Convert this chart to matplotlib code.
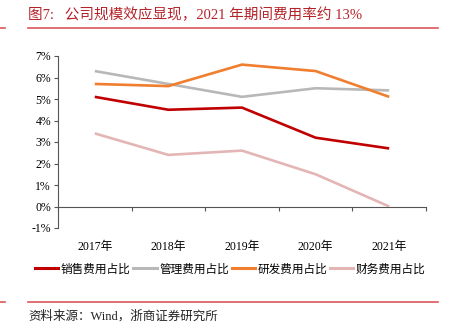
import matplotlib
matplotlib.use("Agg")
import matplotlib.pyplot as plt
from matplotlib.lines import Line2D
import numpy as np

plt.rcParams['font.family'] = ['Liberation Serif', 'Noto Sans CJK SC', 'DejaVu Sans']

years = ["2017年", "2018年", "2019年", "2020年", "2021年"]
sales = [5.1, 4.5, 4.6, 3.2, 2.7]
admin = [6.3, 5.7, 5.1, 5.5, 5.4]
rnd = [5.7, 5.6, 6.6, 6.3, 5.1]
fin = [3.4, 2.4, 2.6, 1.5, 0.0]
names = ["销售费用占比", "管理费用占比", "研发费用占比", "财务费用占比"]
cols = ["#C00000", "#B8B8B8", "#F07E2E", "#E3B6B5"]

fig = plt.figure(figsize=(4.56, 3.35), dpi=100)
ax = fig.add_axes([58 / 456, 1 - 228 / 335, 368 / 456, 172 / 335])

x = np.arange(len(years)) + 0.5
for vals, c in zip([sales, admin, rnd, fin], cols):
    ax.plot(x, vals, color=c, lw=1.9, solid_capstyle="butt")

ax.set_xlim(0, len(years))
ax.set_ylim(-1, 7)
ax.set_yticks(range(-1, 8))
ax.set_yticklabels([f"{v}%" for v in range(-1, 8)], fontsize=8.5)
ax.spines['top'].set_visible(False)
ax.spines['right'].set_visible(False)
ax.spines['bottom'].set_position(('data', 0))
for s in ['left', 'bottom']:
    ax.spines[s].set_color('#555555')
    ax.spines[s].set_linewidth(0.8)

ax.set_xticks(range(len(years) + 1))
ax.set_xticklabels([])
ax.set_xticks(x, minor=True)
ax.set_xticklabels(years, minor=True, fontsize=8.5)
ax.tick_params(axis='x', which='major', direction='out', length=3, color='#555555')
ax.tick_params(axis='x', which='minor', length=0, pad=25)
ax.tick_params(axis='y', direction='out', length=3, color='#555555', pad=2)

handles = [Line2D([0], [0], color=c, lw=2.2) for c in cols]
fig.legend(handles, names, loc='center', bbox_to_anchor=(0.505, 1 - 269 / 335),
           ncol=4, frameon=False, handlelength=2.0,
           handletextpad=0.2, columnspacing=0.25,
           prop={'family': ['Noto Sans CJK SC'], 'size': 8.4})

title_col = "#B5232A"
fig.text(28 / 456, 1 - 15 / 335, "图7:   公司规模效应显现，2021 年期间费用率约 13%",
         fontsize=10.5, color=title_col, va='center', ha='left')
line_col = "#D9585A"
fig.add_artist(Line2D([28 / 456, 438 / 456], [1 - 27.5 / 335] * 2, color=line_col, lw=1.2))
fig.add_artist(Line2D([0, 5 / 456], [1 - 27.5 / 335] * 2, color=line_col, lw=1.2))
fig.add_artist(Line2D([28 / 456, 438 / 456], [1 - 302 / 335] * 2, color=line_col, lw=1.2))
fig.add_artist(Line2D([0, 5 / 456], [1 - 302 / 335] * 2, color=line_col, lw=1.2))
fig.text(28 / 456, 1 - 316 / 335, "资料来源：Wind，浙商证券研究所",
         fontsize=9, color="#222222", va='center', ha='left')

fig.savefig("out.png", dpi=100)
